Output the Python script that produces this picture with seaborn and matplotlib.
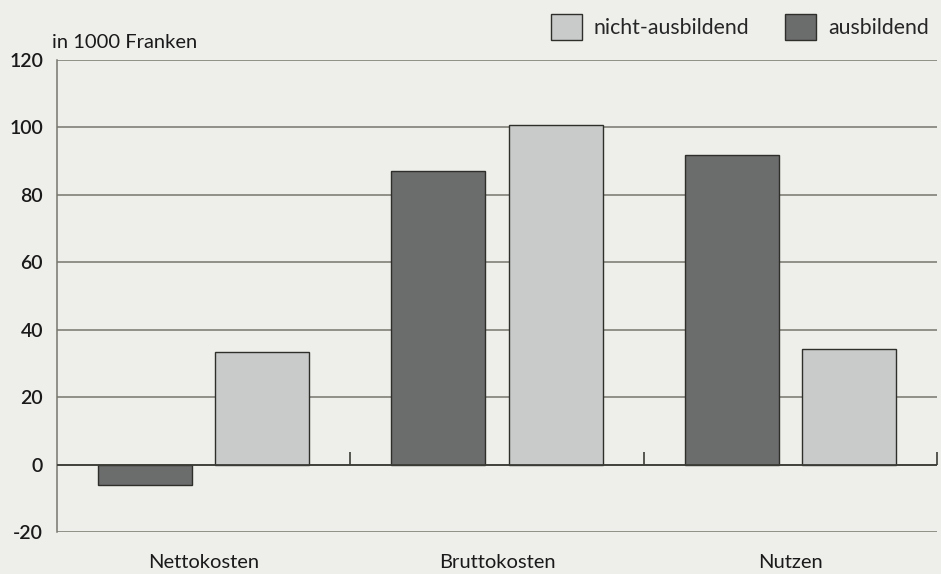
import pandas as pd
import matplotlib.pyplot as plt
import matplotlib.patches as mpatches
import seaborn as sns

# values in 1000 Franken
categories = ['Nettokosten', 'Bruttokosten', 'Nutzen']
ausbildend = [-6.2, 87.1, 91.8]
nicht_ausbildend = [33.4, 100.8, 34.3]
y_ticks = [-20, 0, 20, 40, 60, 80, 100, 120]

bg = '#eeeeeb'
dark = '#6b6c6c'
light = '#c9cbcb'
line_col = '#77776f'

data = pd.DataFrame({
    'Kategorie': categories * 2,
    'Wert': ausbildend + nicht_ausbildend,
    'Gruppe': ['ausbildend'] * 3 + ['nicht-ausbildend'] * 3,
})

sns.set_style('white')
plt.rcParams['font.family'] = ['Lato', 'DejaVu Sans']

fig = plt.figure(figsize=(9.41, 5.74), dpi=100, facecolor=bg)
ax = fig.add_axes([57 / 941, 1 - 532 / 574, 880 / 941, 472 / 574])
ax.set_facecolor(bg)

# grid first so bars sit on top
for y in y_ticks:
    ax.axhline(y, color=line_col, lw=1.1, zorder=0)
ax.axhline(0, color='#3d3d38', lw=1.3, zorder=3)

sns.barplot(data=data, x='Kategorie', y='Wert', hue='Gruppe',
            order=categories, hue_order=['ausbildend', 'nicht-ausbildend'],
            palette={'ausbildend': dark, 'nicht-ausbildend': light},
            width=0.8, gap=0.2, edgecolor='#2e2e2a', linewidth=1.0,
            legend=False, ax=ax, zorder=2)

# small separators on the zero line between groups
ax.vlines([0.5, 1.5, 2.5], 0, 3.6, color='#3d3d38', lw=1.2, zorder=3, clip_on=False)

ax.set_xlim(-0.5, 2.5)
ax.set_ylim(-20, 120)
ax.set_yticks(y_ticks)
ax.set_yticklabels([str(v) for v in y_ticks], fontsize=14, fontweight='semibold', color='#1a1a1a')
ax.tick_params(axis='y', length=0, pad=10)
ax.tick_params(axis='x', length=0, pad=16, labelsize=14.5, labelcolor='#1a1a1a')
ax.set_xlabel('')
ax.set_ylabel('')
for s in ['top', 'right', 'bottom']:
    ax.spines[s].set_visible(False)
ax.spines['left'].set_color(line_col)
ax.spines['left'].set_linewidth(1.1)

ax.text(52 / 941, 1 - 42 / 574, 'in 1000 Franken', transform=fig.transFigure,
        fontsize=14.5, color='#1a1a1a', va='center', ha='left')

handles = [mpatches.Patch(facecolor=light, edgecolor='#2e2e2a', label='nicht-ausbildend'),
           mpatches.Patch(facecolor=dark, edgecolor='#2e2e2a', label='ausbildend')]
fig.legend(handles=handles, loc='center right', bbox_to_anchor=(0.996, 1 - 27 / 574),
           ncol=2, frameon=False, fontsize=15.3, handlelength=1.45, handleheight=1.45,
           handletextpad=0.55, columnspacing=1.7, borderaxespad=0)

fig.savefig('out.png', dpi=100, facecolor=bg)
